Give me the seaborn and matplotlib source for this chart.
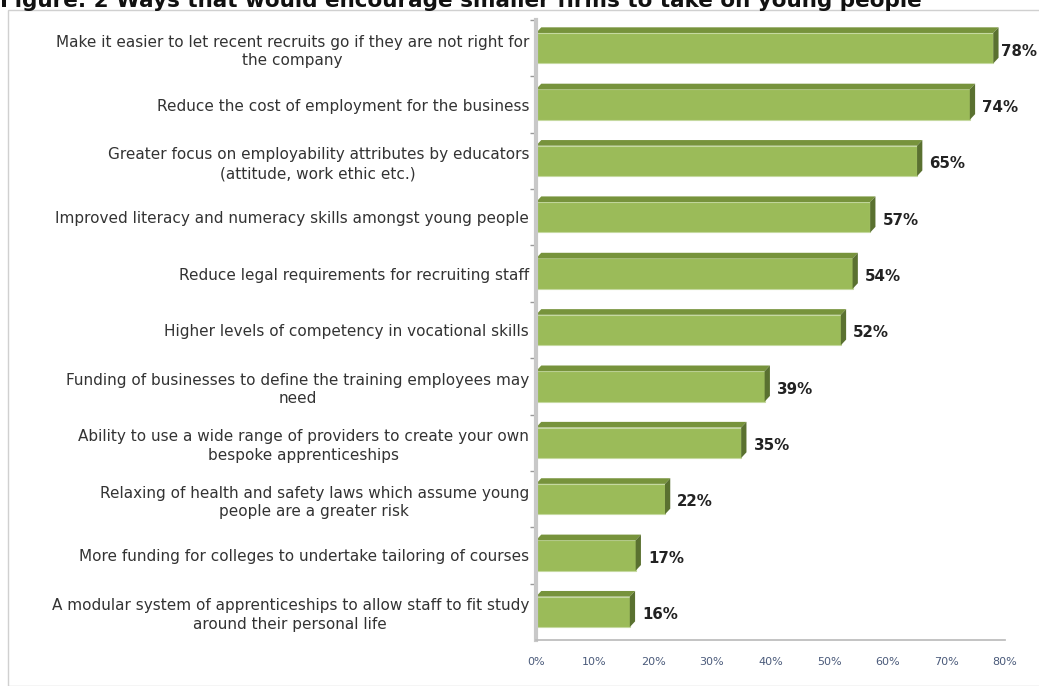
import numpy as np
import pandas as pd
import matplotlib.pyplot as plt
import seaborn as sns
from matplotlib.patches import Polygon, Rectangle

# data
labels = [
    "Make it easier to let recent recruits go if they are not right for\nthe company",
    "Reduce the cost of employment for the business",
    "Greater focus on employability attributes by educators\n(attitude, work ethic etc.)",
    "Improved literacy and numeracy skills amongst young people",
    "Reduce legal requirements for recruiting staff",
    "Higher levels of competency in vocational skills",
    "Funding of businesses to define the training employees may\nneed",
    "Ability to use a wide range of providers to create your own\nbespoke apprenticeships",
    "Relaxing of health and safety laws which assume young\npeople are a greater risk",
    "More funding for colleges to undertake tailoring of courses",
    "A modular system of apprenticeships to allow staff to fit study\naround their personal life",
]
values = [78, 74, 65, 57, 54, 52, 39, 35, 22, 17, 16]
xticks = [0, 10, 20, 30, 40, 50, 60, 70, 80]
title = "Figure. 2 Ways that would encourage smaller firms to take on young people"

df = pd.DataFrame({"label": labels, "value": values})

sns.set_theme(style="white")
plt.rcParams["font.family"] = ["DejaVu Sans"]

fig = plt.figure(figsize=(10.39, 6.86), dpi=100)
ax = fig.add_axes([536 / 1039, 1 - 640 / 686, (1005 - 536) / 1039, (640 - 20) / 686])

face = "#9bbb59"
top = "#77933c"
side = "#5a7130"

sns.barplot(data=df, x="value", y="label", ax=ax, color=face, width=0.54,
            saturation=1, edgecolor="#c5d9a0", linewidth=0.8, orient="h")

# fake 3D: darker top face and right side, derived from each bar
dx, dy = 0.9, 0.1
for p in ax.patches:
    x0, y0 = p.get_x(), p.get_y()
    w, h = p.get_width(), p.get_height()
    # y axis is inverted: y0 is the upper edge on screen
    ax.add_patch(Polygon([(x0, y0), (x0 + w, y0), (x0 + w + dx, y0 - dy), (x0 + dx, y0 - dy)],
                         closed=True, facecolor=top, edgecolor="none", zorder=p.get_zorder()))
    ax.add_patch(Polygon([(x0 + w, y0), (x0 + w + dx, y0 - dy), (x0 + w + dx, y0 + h - dy), (x0 + w, y0 + h)],
                         closed=True, facecolor=side, edgecolor="none", zorder=p.get_zorder()))

# value labels (the longest one gets squeezed against the edge, like the original)
for i, v in enumerate(values):
    ax.text(min(v + 2.1, 79.4), i + 0.05, f"{v}%", va="center", ha="left",
            fontsize=10.8, fontweight="bold", color="#222222", clip_on=False)

ax.set_xlim(0, 80)
ax.set_ylim(len(values) - 0.5, -0.5)
ax.set_xticks(xticks)
ax.set_xticklabels([f"{t}%" for t in xticks], fontsize=8, color="#4a5a7a")
ax.tick_params(axis="x", length=4, color="#bbbbbb", direction="inout", pad=10)
ax.set_yticks(range(len(labels)))
ax.set_yticklabels(labels, fontsize=11, color="#333333", multialignment="center",
                   linespacing=1.3)
ax.tick_params(axis="y", length=0, pad=5)
ax.set_yticks(np.arange(len(labels)) - 0.5, minor=True)
ax.tick_params(axis="y", which="minor", length=4, color="#999999", left=True)
ax.set_xlabel("")
ax.set_ylabel("")

for s in ["top", "right"]:
    ax.spines[s].set_visible(False)
ax.spines["bottom"].set_color("#bbbbbb")
ax.spines["left"].set_color("#c8c8c8")
ax.spines["left"].set_linewidth(3)

# outer chart frame
fig.patches.append(Rectangle((8 / 1039, 0), 1.1, 1 - 10 / 686, transform=fig.transFigure,
                             fill=False, edgecolor="#d0d0d0", linewidth=1))

fig.text(0.0, 1 - 7 / 686, title, fontsize=15.5, fontweight="bold", color="#111111",
         ha="left", va="baseline")

fig.savefig("out.png", dpi=100)
